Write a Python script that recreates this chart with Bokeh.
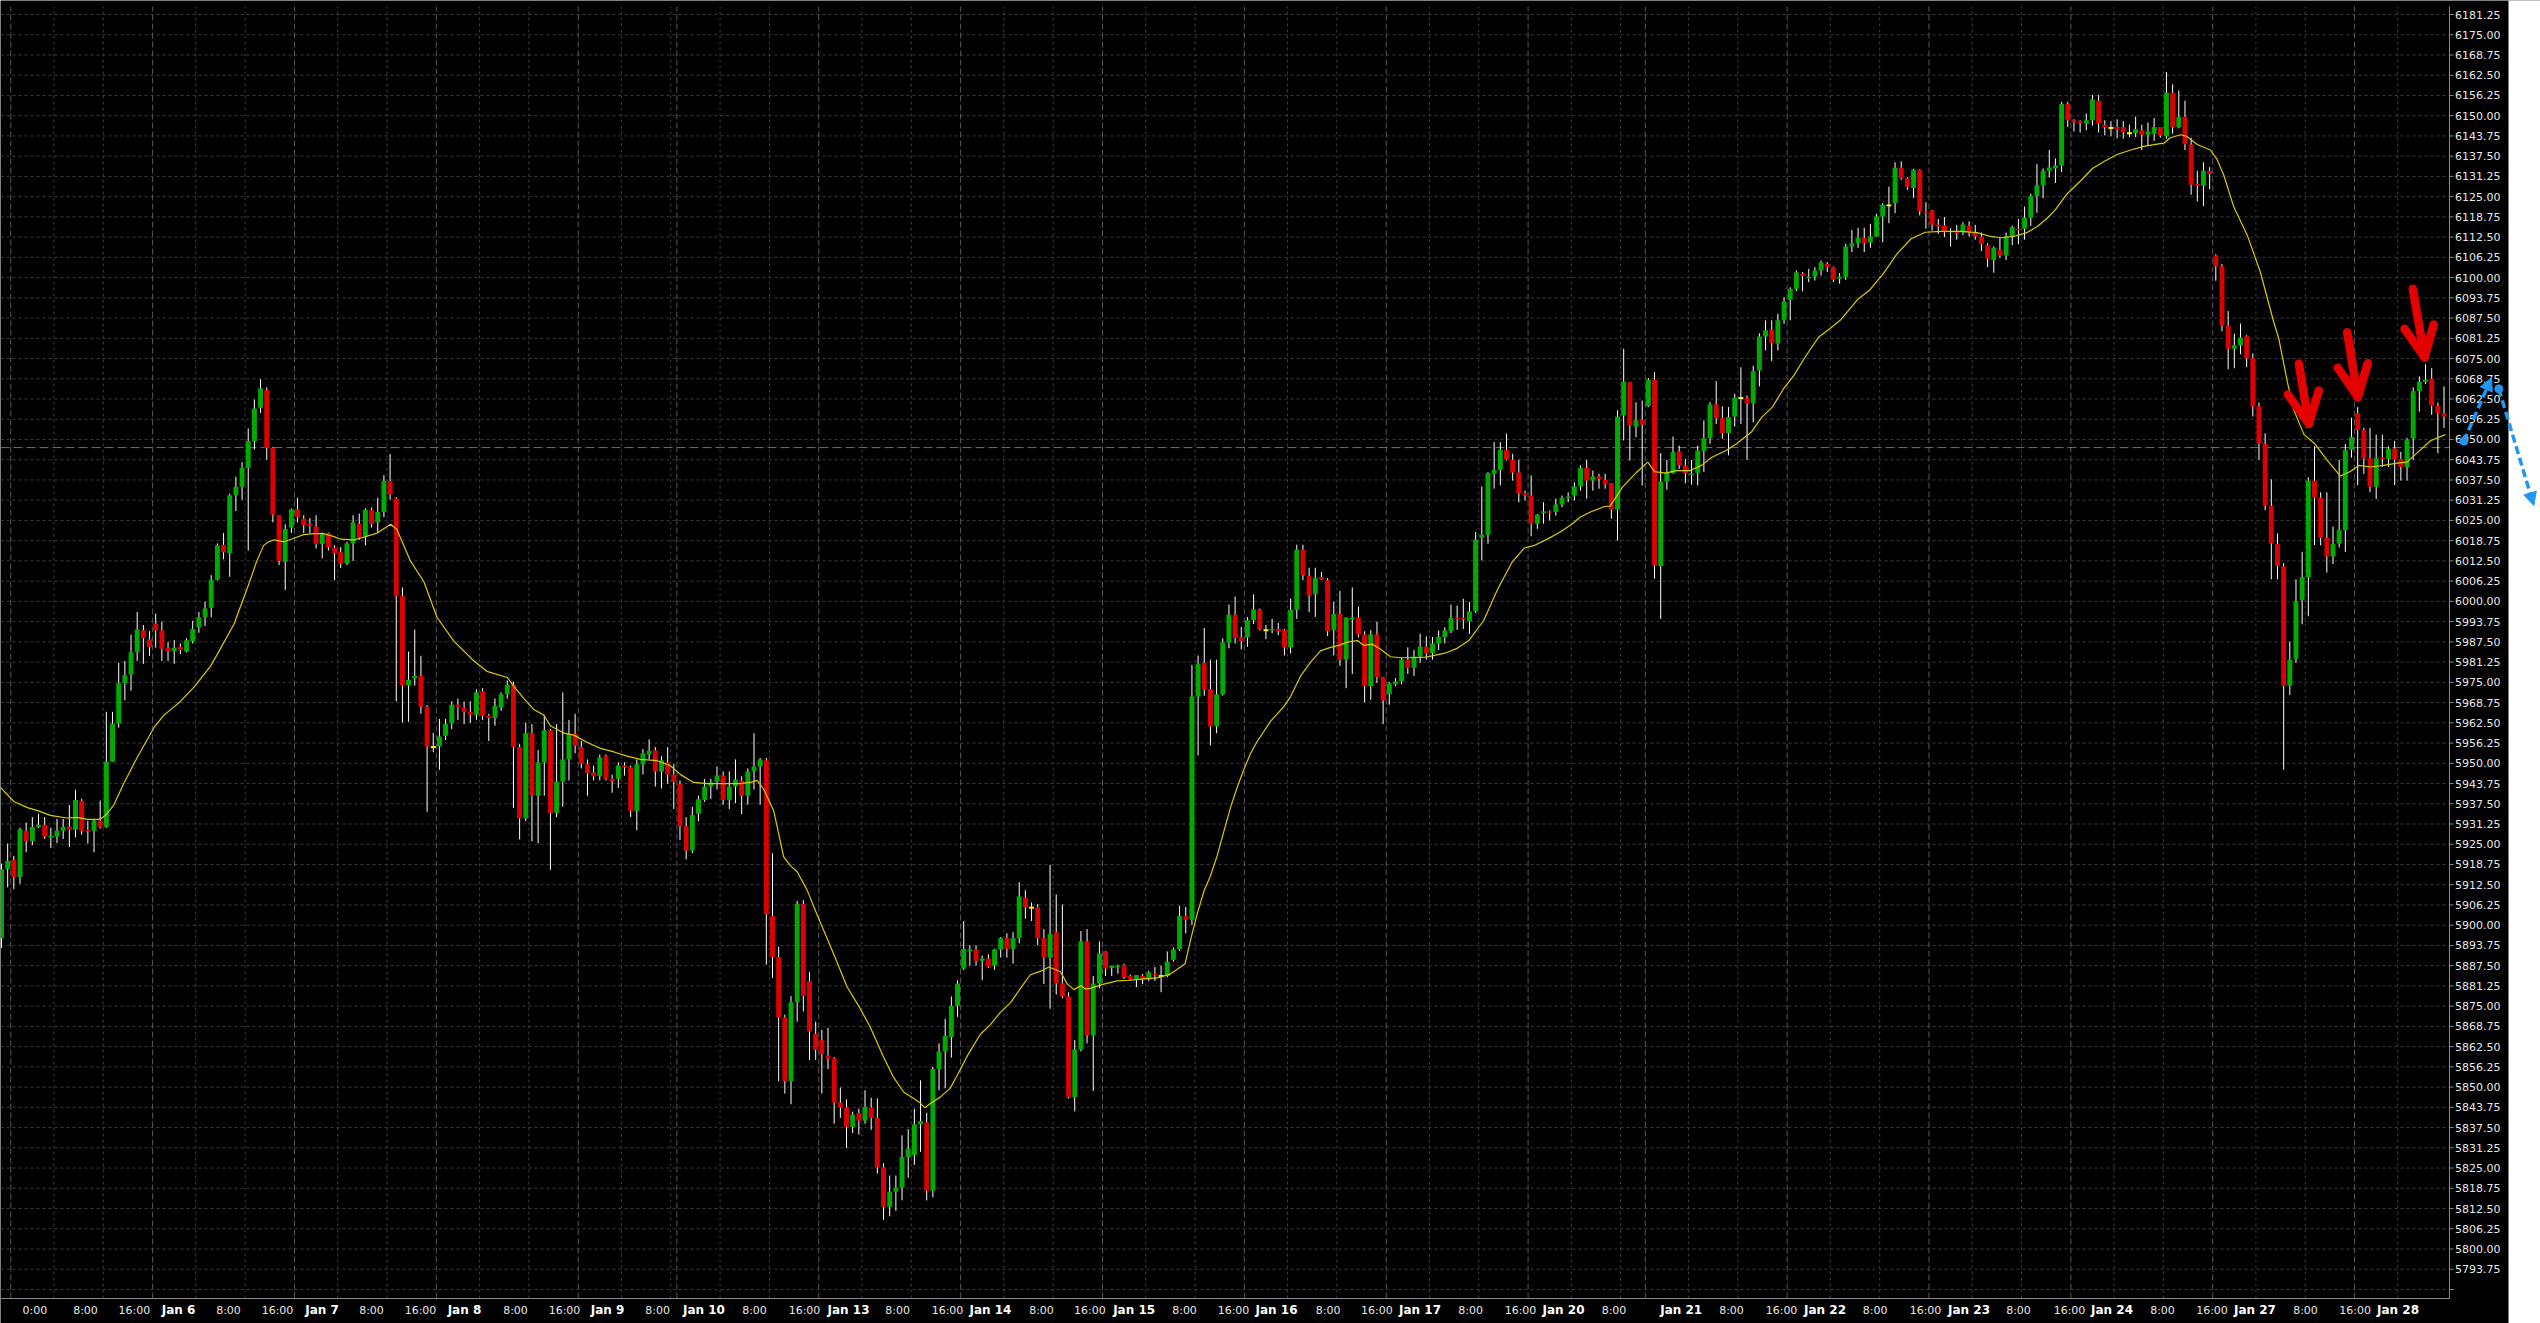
from bokeh.plotting import figure
from bokeh.models import Range1d, Arrow, NormalHead
from bokeh.embed import file_html
from bokeh.resources import INLINE
from bokeh.core.properties import value

# ---------------- DATA (hourly ES candles, bar index 0..396) ----------------
open_ = [
5896.0,5917.3,5920.1,5914.9,5929.2,5926.0,5930.3,5931.0,5927.0,5927.4,
5929.2,5930.4,5929.5,5938.4,5929.5,5929.2,5932.3,5930.4,5950.5,5962.3,
5974.7,5977.4,5984.3,5991.1,5988.3,5993.2,5991.1,5985.7,5984.6,5986.1,
5984.6,5987.8,5991.9,5995.1,5998.0,6006.7,6017.5,6014.9,6032.8,6035.4,
6041.2,6049.5,6059.8,6065.3,6047.4,6026.6,6012.2,6022.8,6028.4,6025.5,
6023.9,6023.1,6017.7,6021.1,6016.6,6015.2,6011.7,6017.9,6023.9,6020.0,
6028.2,6024.4,6027.6,6037.2,6031.8,6001.6,5974.0,5976.2,5977.0,5967.5,
5955.0,5955.2,5958.5,5962.3,5968.1,5967.2,5965.9,5965.0,5972.2,5964.7,
5964.0,5967.2,5971.3,5974.3,5955.0,5933.0,5959.3,5940.0,5950.3,5960.2,
5934.7,5944.3,5951.2,5959.1,5955.0,5949.7,5947.1,5946.0,5952.2,5945.2,
5945.2,5949.3,5948.8,5935.3,5949.7,5952.7,5954.0,5947.5,5950.3,5946.5,
5943.7,5930.6,5923.1,5934.4,5938.7,5942.8,5944.3,5946.2,5938.7,5942.8,
5944.7,5940.0,5947.5,5949.0,5950.9,5902.8,5890.2,5871.5,5851.8,5876.2,
5906.6,5882.7,5866.4,5864.6,5859.7,5858.9,5845.2,5843.7,5837.7,5842.0,
5839.6,5843.7,5840.5,5825.2,5813.0,5817.7,5819.0,5828.4,5829.0,5838.5,
5839.1,5818.0,5855.6,5861.0,5865.4,5875.1,5886.6,5892.0,5892.5,5889.0,
5889.7,5887.5,5892.5,5896.0,5892.7,5896.0,5908.5,5905.4,5905.5,5896.0,
5890.0,5897.8,5882.0,5878.0,5846.9,5861.6,5895.0,5866.0,5882.0,5891.9,
5886.8,5887.1,5887.7,5884.3,5883.3,5884.3,5883.4,5884.9,5884.3,5884.3,
5889.3,5892.5,5902.8,5901.7,5970.6,5981.0,5972.9,5961.4,5971.3,5987.3,
5995.9,5988.8,5988.9,5994.2,5997.5,5991.1,5991.1,5991.5,5991.1,5985.8,
5997.4,6016.0,6007.8,6002.2,6007.5,6006.6,5991.1,5996.1,5982.0,5994.4,
5995.0,5989.8,5973.8,5989.8,5976.6,5971.3,5974.4,5975.3,5982.0,5979.5,
5983.0,5986.0,5984.0,5987.0,5989.0,5990.8,5994.9,5994.9,5993.9,5996.9,
6019.6,6020.6,6039.4,6040.6,6046.8,6043.8,6039.8,6033.4,6032.7,6024.0,
6027.3,6027.8,6027.6,6029.9,6031.9,6032.7,6035.5,6041.2,6037.3,6038.6,
6037.5,6036.5,6028.3,6057.4,6067.7,6054.0,6056.1,6060.3,6068.4,6010.9,
6037.0,6039.6,6046.3,6042.0,6039.1,6039.6,6046.4,6050.4,6060.8,6056.6,
6052.0,6057.1,6062.8,6062.8,6061.2,6071.3,6081.8,6083.9,6079.6,6086.8,
6093.1,6096.5,6101.2,6099.8,6100.3,6102.2,6104.2,6103.2,6099.6,6100.1,
6109.6,6110.7,6112.2,6110.8,6112.7,6118.9,6122.3,6123.0,6133.9,6130.7,
6127.7,6133.2,6120.4,6120.7,6116.3,6116.1,6114.0,6114.3,6113.9,6116.0,
6113.9,6112.7,6110.0,6105.4,6108.6,6106.8,6112.7,6115.1,6115.1,6118.5,
6125.2,6128.5,6133.0,6133.7,6134.6,6153.6,6148.6,6148.2,6147.6,6148.6,
6154.6,6147.2,6146.2,6146.5,6146.5,6144.6,6144.6,6145.5,6144.1,6144.4,
6146.5,6143.6,6157.1,6146.5,6149.7,6141.1,6129.0,6128.4,6133.0,6106.8,
6103.5,6085.1,6078.0,6079.1,6081.9,6075.1,6060.3,6048.6,6029.5,6017.7,
6010.8,5973.9,5982.3,6000.4,6007.5,6037.3,6032.0,6019.6,6013.9,6017.9,
6022.0,6046.8,6058.1,6052.9,6044.2,6035.4,6044.5,6044.0,6047.2,6044.0,
6041.5,6050.3,6064.9,6067.8,6068.8,6060.4,6058.1]

high_ = [
5919.0,5925.2,5921.4,5930.1,5931.7,5933.4,5934.4,5933.4,5930.1,5932.8,
5932.8,5937.1,5941.8,5939.0,5932.2,5932.8,5938.5,5965.9,5965.9,5981.0,
5981.6,5989.7,5996.7,5992.7,5990.8,5996.2,5993.8,5987.5,5988.1,5987.0,
5988.6,5994.0,5996.7,5999.9,6008.1,6017.9,6021.1,6033.3,6038.5,6043.0,
6053.4,6062.3,6068.6,6066.1,6047.7,6026.6,6023.8,6028.7,6032.0,6026.6,
6025.7,6026.6,6021.3,6021.3,6017.3,6016.8,6018.4,6026.6,6027.1,6028.7,
6029.0,6032.0,6039.0,6045.5,6032.2,6004.3,5984.5,5991.3,5983.2,5968.0,
5959.4,5963.7,5963.7,5969.1,5970.0,5969.0,5969.1,5972.8,5973.2,5965.3,
5970.0,5971.9,5975.6,5975.2,5955.9,5962.5,5962.1,5954.1,5964.9,5960.6,
5962.1,5971.9,5963.4,5965.3,5956.9,5951.2,5949.3,5952.7,5952.7,5946.5,
5950.3,5950.3,5949.3,5951.2,5954.4,5957.4,5955.0,5952.2,5955.0,5949.7,
5944.7,5933.4,5936.6,5940.0,5945.2,5945.2,5949.0,5947.5,5947.5,5951.2,
5946.0,5948.4,5959.3,5951.6,5951.6,5922.2,5893.4,5872.4,5878.1,5907.5,
5907.7,5885.6,5870.2,5867.7,5868.3,5859.3,5849.9,5846.2,5842.4,5843.3,
5849.0,5846.7,5846.5,5826.5,5822.7,5822.7,5835.1,5837.0,5843.3,5852.1,
5842.1,5856.2,5863.5,5871.1,5878.0,5883.0,5901.3,5893.8,5893.8,5890.6,
5891.0,5892.7,5896.3,5897.5,5897.8,5913.3,5910.8,5907.0,5906.5,5898.8,
5918.6,5909.5,5906.4,5879.3,5864.5,5898.2,5898.8,5884.3,5895.0,5892.0,
5887.5,5887.8,5888.1,5884.7,5884.6,5884.9,5885.9,5887.1,5887.5,5891.9,
5893.1,5906.0,5905.6,5980.4,5983.3,5991.8,5982.0,5982.0,5988.6,5999.0,
6001.5,5992.1,5995.2,6002.2,5997.8,5992.7,5994.6,5993.3,5991.5,6000.9,
6017.5,6017.5,6010.4,6010.4,6009.1,6007.2,5999.9,6003.2,5995.0,6004.3,
5998.4,5990.8,5991.1,5993.7,5976.7,5975.1,5976.3,5982.6,5985.8,5985.0,
5990.0,5989.2,5989.0,5991.0,5992.0,5999.0,5998.7,6000.8,5999.8,6021.4,
6035.5,6039.9,6049.2,6049.2,6051.8,6045.6,6043.8,6034.2,6038.9,6027.0,
6030.6,6028.1,6031.7,6032.7,6033.7,6036.8,6042.0,6043.7,6040.4,6039.4,
6039.4,6036.5,6059.0,6078.0,6067.7,6061.5,6062.0,6069.0,6070.8,6045.8,
6043.7,6050.9,6048.1,6044.0,6043.7,6048.1,6055.9,6061.5,6068.0,6060.2,
6060.0,6064.1,6072.3,6063.6,6072.8,6082.8,6086.8,6086.8,6088.8,6093.9,
6097.0,6102.2,6101.7,6102.7,6103.2,6105.3,6104.8,6103.4,6101.4,6110.4,
6114.7,6115.4,6115.4,6116.6,6119.7,6123.0,6128.1,6135.6,6135.9,6131.0,
6133.6,6133.4,6123.3,6120.9,6118.1,6118.7,6115.3,6116.3,6117.1,6117.4,
6116.3,6113.9,6110.6,6109.6,6112.4,6113.9,6116.0,6118.1,6121.9,6125.9,
6135.1,6133.7,6139.4,6136.8,6154.3,6154.3,6148.9,6148.6,6150.7,6156.4,
6156.4,6148.6,6148.3,6148.9,6148.3,6147.2,6149.7,6147.2,6147.9,6149.3,
6146.5,6163.5,6159.7,6157.8,6154.6,6143.2,6133.0,6135.6,6134.1,6107.2,
6104.2,6089.7,6082.7,6085.8,6082.2,6076.6,6061.4,6051.9,6037.7,6021.0,
6011.8,5987.6,6006.8,6015.3,6038.3,6047.9,6033.7,6033.7,6023.1,6043.7,
6048.6,6056.7,6060.0,6053.6,6053.6,6051.5,6051.5,6047.9,6049.6,6046.2,
6050.5,6066.1,6069.5,6073.2,6072.0,6061.4,6066.4]

low_ = [
5893.0,5911.7,5911.1,5912.8,5922.5,5924.7,5930.0,5926.6,5923.8,5925.4,
5926.6,5924.1,5927.1,5927.9,5925.2,5922.5,5929.9,5930.1,5950.5,5961.0,
5969.4,5972.4,5981.6,5980.7,5983.2,5985.7,5981.6,5981.6,5980.7,5983.7,
5984.3,5987.0,5990.3,5992.4,5995.1,6006.5,6013.0,6007.6,6027.9,6031.4,
6015.7,6046.9,6058.2,6043.7,6024.4,6011.2,6003.5,6021.1,6024.4,6021.1,
6021.1,6016.3,6013.3,6015.7,6006.5,6010.3,6011.2,6012.5,6019.0,6017.3,
6022.8,6021.1,6026.0,6031.4,5969.1,5962.6,5962.8,5974.0,5965.3,5935.0,
5953.4,5948.0,5957.2,5960.6,5963.4,5962.1,5962.5,5963.4,5963.4,5956.9,
5961.6,5966.2,5970.0,5936.2,5926.5,5932.1,5925.9,5925.3,5940.0,5917.1,
5933.4,5936.6,5944.7,5953.1,5948.4,5940.0,5944.7,5944.7,5944.7,5940.9,
5942.4,5946.2,5933.4,5929.3,5946.5,5951.2,5942.8,5942.2,5943.7,5935.9,
5926.3,5920.3,5922.2,5932.1,5938.1,5939.0,5941.9,5937.2,5935.9,5937.7,
5934.3,5937.2,5941.9,5937.2,5887.8,5883.7,5851.8,5848.0,5844.7,5870.2,
5873.4,5858.4,5858.4,5848.0,5855.6,5838.7,5840.5,5831.2,5835.8,5835.3,
5838.7,5836.8,5823.3,5809.0,5810.1,5811.8,5815.0,5822.0,5826.0,5830.0,
5815.0,5816.0,5849.0,5849.6,5859.1,5871.7,5886.2,5887.5,5887.5,5883.0,
5886.8,5886.2,5890.0,5890.0,5888.1,5894.4,5902.0,5901.3,5893.8,5881.8,
5874.2,5878.6,5877.4,5846.5,5842.5,5861.0,5863.5,5848.8,5880.5,5884.3,
5884.3,5885.0,5883.4,5882.8,5880.9,5881.8,5882.8,5882.8,5879.3,5883.9,
5888.7,5892.1,5897.5,5900.1,5952.4,5970.9,5955.5,5959.3,5970.9,5985.5,
5987.0,5985.2,5986.0,5993.0,5991.1,5988.3,5990.2,5989.6,5983.3,5983.9,
5994.6,6006.6,5996.7,5995.2,6006.6,5989.3,5983.3,5980.1,5973.2,5977.6,
5988.9,5968.8,5969.6,5974.8,5962.1,5968.1,5973.8,5974.4,5977.6,5977.0,
5981.0,5982.0,5982.0,5985.0,5987.0,5990.2,5991.2,5991.5,5990.0,5996.4,
6012.6,6017.8,6034.8,6035.8,6043.5,6037.3,6030.6,6031.2,6020.1,6022.4,
6024.0,6025.0,6026.5,6029.1,6030.6,6031.2,6034.2,6031.7,6034.2,6034.8,
6034.8,6025.5,6018.8,6049.7,6043.5,6050.7,6035.8,6060.0,6007.0,5994.6,
6034.5,6039.4,6040.9,6036.5,6036.0,6035.8,6040.0,6048.7,6054.8,6050.2,
6045.1,6054.0,6054.8,6043.7,6055.3,6066.4,6077.5,6074.2,6077.5,6085.7,
6086.8,6095.8,6095.8,6098.6,6099.1,6100.6,6101.7,6098.6,6098.1,6099.3,
6107.9,6109.2,6107.9,6109.2,6112.5,6110.9,6116.8,6119.9,6130.2,6127.1,
6124.6,6119.2,6115.1,6114.5,6113.5,6112.5,6109.6,6111.7,6113.1,6112.7,
6111.7,6108.2,6103.2,6101.5,6106.1,6105.4,6110.0,6110.3,6111.7,6116.0,
6120.0,6124.5,6130.9,6129.2,6132.6,6146.5,6145.1,6144.8,6145.5,6146.9,
6144.8,6143.9,6143.6,6143.0,6142.9,6143.4,6143.4,6139.4,6140.8,6142.2,
6143.2,6142.9,6144.4,6146.1,6139.4,6125.6,6123.5,6122.1,6127.3,6099.0,
6083.4,6071.7,6072.0,6076.3,6072.3,6057.1,6043.7,6028.1,6006.8,6006.8,
5948.0,5971.1,5981.0,5992.9,5995.4,6017.4,6017.3,6008.9,6011.5,6016.7,
6015.3,6044.4,6035.9,6039.4,6033.7,6031.6,6041.5,6041.5,6035.9,6037.3,
6037.3,6043.7,6058.6,6067.1,6057.6,6045.8,6053.6]

close_ = [
5917.3,5919.8,5914.9,5929.6,5926.0,5930.3,5931.0,5927.4,5927.6,5929.2,
5930.4,5929.5,5938.7,5929.2,5929.0,5932.3,5930.3,5950.5,5962.3,5974.7,
5977.2,5984.3,5991.3,5988.6,5985.9,5991.1,5985.4,5984.6,5985.7,5985.0,
5988.0,5991.5,5995.1,5997.8,6006.7,6017.3,6015.2,6032.8,6035.4,6041.2,
6049.5,6059.6,6065.8,6047.4,6026.8,6012.5,6022.4,6028.4,6026.0,6023.5,
6023.3,6017.7,6021.1,6016.8,6014.9,6011.7,6017.9,6024.4,6019.7,6028.2,
6023.9,6027.6,6037.2,6033.0,6001.6,5974.0,5975.8,5977.0,5967.5,5955.2,
5955.0,5958.3,5962.1,5968.1,5967.2,5965.9,5965.0,5971.9,5964.7,5964.0,
5967.7,5971.3,5974.3,5955.0,5933.0,5959.3,5940.0,5950.3,5960.2,5934.7,
5944.3,5951.2,5959.1,5955.4,5949.9,5946.9,5946.0,5951.8,5945.2,5944.5,
5949.3,5948.8,5935.3,5949.7,5953.1,5953.9,5947.5,5950.9,5946.5,5944.3,
5930.6,5923.1,5934.0,5938.9,5942.8,5944.1,5946.2,5938.7,5942.8,5945.0,
5940.0,5947.5,5949.0,5951.2,5903.4,5890.2,5871.5,5851.8,5876.2,5906.6,
5878.1,5867.2,5861.5,5860.2,5858.8,5845.2,5843.7,5837.7,5841.5,5839.6,
5843.9,5840.5,5825.2,5813.0,5817.7,5819.0,5828.4,5831.0,5838.5,5839.5,
5818.0,5855.6,5861.0,5865.8,5875.1,5882.0,5892.7,5892.5,5889.0,5889.7,
5887.2,5892.5,5896.0,5892.7,5896.0,5908.9,5905.5,5905.4,5896.0,5890.0,
5897.3,5882.0,5878.0,5846.9,5861.6,5895.0,5866.0,5882.0,5891.2,5886.6,
5887.5,5887.5,5883.9,5883.3,5884.6,5883.3,5885.4,5884.6,5884.3,5888.7,
5892.5,5902.8,5901.7,5970.6,5980.7,5972.8,5961.4,5971.3,5987.3,5995.9,
5988.7,5987.8,5994.2,5997.5,5991.5,5991.1,5991.5,5990.8,5985.8,5997.4,
6016.0,6008.1,6001.8,6007.2,6006.8,5990.8,5996.1,5982.0,5995.0,5995.0,
5989.8,5973.8,5989.8,5976.6,5969.4,5974.7,5975.3,5982.0,5979.5,5983.0,
5986.0,5984.0,5987.0,5989.0,5991.0,5994.9,5994.5,5994.5,5996.9,6019.1,
6020.6,6039.6,6040.6,6046.8,6043.8,6039.8,6033.4,6032.7,6024.0,6026.8,
6027.8,6027.4,6029.9,6032.0,6032.4,6035.5,6041.2,6037.3,6038.6,6037.8,
6036.1,6028.3,6057.1,6067.9,6054.3,6055.9,6054.6,6068.4,6011.1,6037.0,
6039.9,6046.1,6042.0,6039.6,6039.6,6046.6,6050.4,6060.8,6056.6,6052.0,
6056.9,6062.9,6062.8,6061.2,6071.1,6081.8,6083.7,6079.8,6086.8,6092.6,
6096.5,6101.6,6100.5,6100.3,6102.2,6104.7,6103.2,6099.3,6100.3,6109.6,
6110.6,6112.2,6110.6,6112.7,6118.9,6122.5,6122.3,6133.9,6130.7,6127.9,
6133.2,6120.5,6120.0,6116.3,6115.8,6114.0,6114.3,6113.8,6116.4,6113.9,
6112.7,6110.3,6105.8,6109.2,6106.8,6112.7,6115.6,6114.6,6118.5,6125.2,
6128.5,6133.0,6134.0,6134.6,6153.6,6148.6,6148.0,6147.6,6148.6,6155.0,
6147.6,6146.5,6146.2,6145.8,6144.8,6144.6,6145.8,6144.1,6145.1,6146.5,
6143.9,6157.1,6146.5,6149.6,6141.2,6128.7,6128.4,6133.0,6132.0,6103.5,
6085.1,6078.0,6079.1,6081.5,6075.1,6060.2,6048.6,6029.5,6017.9,6011.0,
5973.9,5982.0,6000.0,6007.5,6037.3,6032.0,6019.6,6013.9,6017.7,6022.0,
6046.8,6050.8,6052.9,6044.2,6035.4,6044.2,6044.0,6047.2,6043.7,6041.5,
6050.0,6064.9,6067.8,6068.5,6060.4,6058.1,6057.1]

# moving average line (bar position, value)
ma_bar = [-0.2,2.0,4.2,6.0,7.9,10.6,12.3,13.9,16.0,17.0,18.2,19.8,22.0,24.7,26.3,29.0,31.2,33.9,35.5,37.7,
          39.8,41.4,42.5,43.3,44.2,45.8,47.4,49.0,50.6,52.3,53.9,55.0,57.1,58.7,60.9,63.1,64.1,66.3,68.5,70.6,
          73.3,76.6,78.7,82.0,83.1,84.7,86.3,87.9,89.0,91.2,92.8,94.9,97.1,99.3,101.4,103.6,106.3,108.4,110.1,112.2,
          114.4,116.0,118.2,119.8,121.4,122.5,123.6,125.2,126.8,127.9,129.0,130.6,132.2,134.9,137.1,139.2,140.8,143.0,144.6,146.3,
          147.9,148.9,149.7,150.6,152.2,153.8,154.9,156.6,158.7,160.3,161.9,163.6,165.2,166.8,168.5,169.8,171.7,172.8,173.9,175.0,
          175.7,176.5,178.7,180.9,183.0,185.2,187.4,189.5,191.9,192.8,193.9,195.0,196.0,197.1,198.2,199.3,200.4,201.4,202.5,203.6,
          205.8,207.9,209.0,210.6,212.3,213.9,215.5,216.8,218.2,219.8,220.9,222.2,223.6,225.2,226.8,228.4,231.0,234.0,236.0,237.9,
          240.3,242.6,244.9,246.9,248.4,250.7,252.7,254.7,255.9,257.6,259.9,260.8,262.8,265.1,266.9,268.0,269.8,271.5,273.8,275.6,
          277.3,279.6,281.3,283.7,285.4,287.1,288.9,290.6,292.4,294.6,296.4,298.1,299.9,301.0,302.8,305.1,307.3,309.6,311.9,314.4,
          317.6,320.3,322.5,324.1,326.2,328.4,330.0,331.7,333.0,334.9,337.1,339.0,340.8,343.0,345.2,347.3,349.5,350.6,351.6,353.3,
          354.3,356.0,358.1,359.2,360.3,361.9,364.1,366.2,368.4,369.2,370.6,371.6,373.3,375.1,377.0,379.2,380.8,382.2,384.1,386.2,
          388.4,390.0,391.6,393.8,396.2]
ma_val = [5942.6,5938.2,5936.3,5935.3,5933.9,5933.1,5933.3,5932.7,5932.7,5934.2,5937.1,5943.7,5951.8,5961.0,5964.8,5969.1,5973.5,5980.0,5985.4,5993.0,
          6003.8,6012.5,6017.3,6018.4,6019.0,6018.4,6019.5,6020.6,6020.9,6020.9,6020.0,6019.2,6019.0,6019.8,6021.1,6023.8,6022.2,6012.5,6006.0,5995.1,
          5987.8,5981.6,5978.4,5976.5,5973.7,5970.0,5966.6,5964.9,5961.6,5959.3,5958.7,5956.5,5954.6,5953.5,5952.2,5951.2,5950.8,5949.3,5946.5,5944.1,
          5943.7,5943.7,5943.7,5943.7,5944.1,5944.7,5941.9,5935.3,5921.2,5918.4,5916.5,5910.9,5903.4,5891.2,5880.9,5874.3,5868.7,5859.3,5853.1,5848.4,
          5846.5,5845.2,5843.6,5844.9,5846.9,5849.6,5853.4,5859.7,5866.3,5869.2,5873.0,5876.1,5880.5,5884.7,5885.8,5887.1,5885.6,5881.8,5880.1,5881.4,
          5880.3,5880.5,5881.8,5882.8,5883.0,5883.4,5883.7,5884.9,5888.1,5895.6,5903.8,5910.8,5915.2,5921.5,5929.1,5936.6,5942.9,5948.0,5953.0,5956.8,
          5963.1,5967.5,5970.6,5976.9,5981.4,5984.8,5985.8,5986.4,5987.4,5987.9,5986.4,5986.8,5985.2,5982.9,5982.6,5982.6,5982.8,5984.0,5985.5,5987.9,
          5994.1,6003.9,6012.1,6016.5,6017.2,6019.3,6021.4,6024.0,6026.0,6027.6,6029.3,6029.4,6035.3,6039.9,6043.0,6040.1,6039.6,6040.4,6040.4,6042.0,
          6044.5,6046.6,6048.7,6052.3,6056.9,6060.0,6065.6,6069.8,6075.4,6081.6,6084.2,6086.8,6090.9,6093.4,6096.0,6101.2,6107.3,6112.0,6114.0,6114.3,
          6114.3,6113.9,6112.7,6112.3,6112.7,6113.9,6115.7,6118.4,6121.0,6125.9,6129.9,6133.7,6135.8,6138.0,6139.4,6140.5,6141.2,6141.5,6143.2,6144.1,
          6143.6,6141.1,6139.4,6136.5,6131.6,6121.9,6113.1,6101.8,6086.2,6081.2,6067.8,6059.3,6051.5,6048.6,6043.7,6038.7,6040.1,6042.0,6041.5,6042.0,
          6042.7,6043.0,6045.8,6049.6,6051.5]

last_price = 6047.5

price_ticks = [5787.50,5793.75,5800.00,5806.25,5812.50,5818.75,5825.00,5831.25,5837.50,5843.75,
               5850.00,5856.25,5862.50,5868.75,5875.00,5881.25,5887.50,5893.75,5900.00,5906.25,
               5912.50,5918.75,5925.00,5931.25,5937.50,5943.75,5950.00,5956.25,5962.50,5968.75,
               5975.00,5981.25,5987.50,5993.75,6000.00,6006.25,6012.50,6018.75,6025.00,6031.25,
               6037.50,6043.75,6050.00,6056.25,6062.50,6068.75,6075.00,6081.25,6087.50,6093.75,
               6100.00,6106.25,6112.50,6118.75,6125.00,6131.25,6137.50,6143.75,6150.00,6156.25,
               6162.50,6168.75,6175.00,6181.25]

time_labels = ["0:00","8:00","16:00","Jan 6","8:00","16:00","Jan 7","8:00","16:00","Jan 8",
               "8:00","16:00","Jan 9","8:00","Jan 10","8:00","16:00","Jan 13","8:00","16:00",
               "Jan 14","8:00","16:00","Jan 15","8:00","16:00","Jan 16","8:00","16:00","Jan 17",
               "8:00","16:00","Jan 20","8:00","Jan 21","8:00","16:00","Jan 22","8:00","16:00",
               "Jan 23","8:00","16:00","Jan 24","8:00","16:00","Jan 27","8:00","16:00","Jan 28"]
time_label_bar = [5.42,13.62,21.53,28.70,36.80,44.75,51.96,59.99,67.93,75.06,
                  83.33,91.28,98.25,106.36,113.89,122.08,130.19,137.32,145.30,153.37,
                  160.34,168.61,176.47,183.63,191.80,199.74,206.71,215.09,223.00,229.98,
                  238.17,246.27,253.24,261.43,272.32,280.48,288.59,295.64,303.76,311.93,
                  318.99,327.01,335.28,342.17,350.36,358.38,365.35,373.54,381.57,388.54]

day_start = [2, 25, 48, 71, 94, 110, 133, 156, 179, 202, 225, 248, 267, 290, 313, 336, 359, 382]
day_len = [23, 23, 23, 23, 16, 23, 23, 23, 23, 23, 23, 19, 23, 23, 23, 23, 23, 15]

# ---------------- LAYOUT (reference pixel geometry) ----------------
PXB = 6.168      # px per bar
PXP = 3.238      # px per point
X0 = 1.0         # px of bar 0
def bx(px):      # page px -> bar coordinate
    return (px - X0) / PXB
def py(px):      # page px -> price
    return 6181.25 - (px - 14.0) / PXP

W, H = 2540, 1323
p = figure(width=W, height=H, x_range=Range1d(bx(0), bx(W)), y_range=Range1d(py(H), py(0)),
           x_axis_type=None, y_axis_type=None, toolbar_location=None, output_backend="svg",
           min_border=0, background_fill_color="#000000", border_fill_color="#000000",
           outline_line_color=None)
p.grid.visible = False

xl, xr = bx(0), bx(2449)
yb, yt = py(1298), py(6)

# price grid
p.segment(x0=[xl]*len(price_ticks), x1=[xr]*len(price_ticks), y0=price_ticks, y1=price_ticks,
          line_color="#3c3c3c", line_width=1, line_dash="3 3")

# vertical grid + day separators
sep_x, grid_x = [], []
for s, n in zip(day_start, day_len):
    sep_x.append(s - 0.5)
    for k in (7, 15):
        if k < n:
            grid_x.append(s - 0.5 + k)
p.segment(x0=grid_x, x1=grid_x, y0=[yb]*len(grid_x), y1=[yt]*len(grid_x),
          line_color="#3c3c3c", line_width=1, line_dash="3 3")
p.segment(x0=sep_x, x1=sep_x, y0=[yb]*len(sep_x), y1=[yt]*len(sep_x),
          line_color="#575757", line_width=1, line_dash="6 3")

# last price line
p.segment(x0=[xl], x1=[xr], y0=[last_price], y1=[last_price], line_color="#707070",
          line_width=1, line_dash="9 4")

# candles
n = len(close_)
xs = list(range(n))
hi = [max(h, o, c) for h, o, c in zip(high_, open_, close_)]
lo = [min(l, o, c) for l, o, c in zip(low_, open_, close_)]
p.segment(x0=xs, x1=xs, y0=lo, y1=hi, line_color="#ffffff", line_width=1)

minh = 0.35
bx_i, top, bot, col = [], [], [], []
dx, dy = [], []
for i, (o, c) in enumerate(zip(open_, close_)):
    if o == c:
        dx.append(i); dy.append(o)
        continue
    b, t = min(o, c), max(o, c)
    if t - b < minh:
        t = b + minh
    bx_i.append(i); top.append(t); bot.append(b)
    col.append("#00aa00" if c > o else "#dd0000")
p.vbar(x=bx_i, width=0.8, top=top, bottom=bot, fill_color=col, line_color=None)
p.vbar(x=dx, width=0.8, top=[v + 0.3 for v in dy], bottom=[v - 0.3 for v in dy],
       fill_color="#ffff00", line_color=None)

# moving average
p.line(ma_bar, ma_val, line_color="#d8cc00", line_width=1.2)

# frame borders
p.segment(x0=[xr, xl], x1=[xr, xr], y0=[yb, yb], y1=[yt, yb], line_color="#8a8a8a", line_width=1)

# price axis ticks and labels
p.segment(x0=[xr]*len(price_ticks), x1=[bx(2453)]*len(price_ticks), y0=price_ticks, y1=price_ticks,
          line_color="#8a8a8a", line_width=1)
lab_y = price_ticks[1:]
p.text(x=[bx(2454.5)]*len(lab_y), y=lab_y, text=["%.2f" % v for v in lab_y],
       text_font=value("DejaVu Sans"), text_font_size=value("11px"), text_color="#e8e8e8",
       text_align="left", text_baseline="middle")

# time labels
ty = py(1309.5)
tl_t = [t for t in time_labels if not t.startswith("Jan")]
tl_x = [x for t, x in zip(time_labels, time_label_bar) if not t.startswith("Jan")]
dl_t = [t for t in time_labels if t.startswith("Jan")]
dl_x = [x for t, x in zip(time_labels, time_label_bar) if t.startswith("Jan")]
p.text(x=tl_x, y=[ty]*len(tl_x), text=tl_t, text_font=value("DejaVu Sans"),
       text_font_size=value("11px"), text_color="#e8e8e8", text_align="center", text_baseline="middle")
p.text(x=dl_x, y=[ty]*len(dl_x), text=dl_t, text_font=value("DejaVu Sans"), text_font_style="bold",
       text_font_size=value("12px"), text_color="#ffffff", text_align="center", text_baseline="middle")

# white strip at right
p.quad(left=[bx(2508)], right=[bx(2560)], bottom=[py(1340)], top=[py(-10)], fill_color="#ffffff",
       line_color=None)

# red hand-drawn arrows (annotations)
red = "#e50000"
arrows_red = [
    ((2298.3, 363.3), (2308.3, 423.3), (2287.3, 394.0), (2318.3, 390.0)),
    ((2346.7, 331.7), (2357.3, 396.7), (2337.3, 367.3), (2367.3, 362.7)),
    ((2412.3, 288.3), (2424.0, 356.7), (2404.0, 328.3), (2433.3, 324.0)),
]
mxs, mys = [], []
for top_, tip, lw, rw in arrows_red:
    mxs.append([bx(top_[0]), bx(tip[0])]); mys.append([py(top_[1]), py(tip[1])])
    mxs.append([bx(lw[0]), bx(tip[0]), bx(rw[0])]); mys.append([py(lw[1]), py(tip[1]), py(rw[1])])
p.multi_line(xs=mxs, ys=mys, line_color=red, line_width=8.5, line_cap="round", line_join="round")

# blue dashed arrows
blue = "#2196f3"
blue_arrows = [((2463.3, 440.7), (2491.0, 377.0)), ((2498.3, 388.3), (2533.3, 505.0))]
for (sx, sy), (ex, ey) in blue_arrows:
    p.add_layout(Arrow(end=NormalHead(size=13, fill_color=blue, line_color=blue, line_width=1),
                       x_start=bx(sx), y_start=py(sy), x_end=bx(ex), y_end=py(ey),
                       line_color=blue, line_width=3.5, line_dash="8 4"))
    p.scatter(x=[bx(sx)], y=[py(sy)], size=8, marker="circle", fill_color=blue, line_color=blue)

open("out.html", "w").write(file_html(p, INLINE))
